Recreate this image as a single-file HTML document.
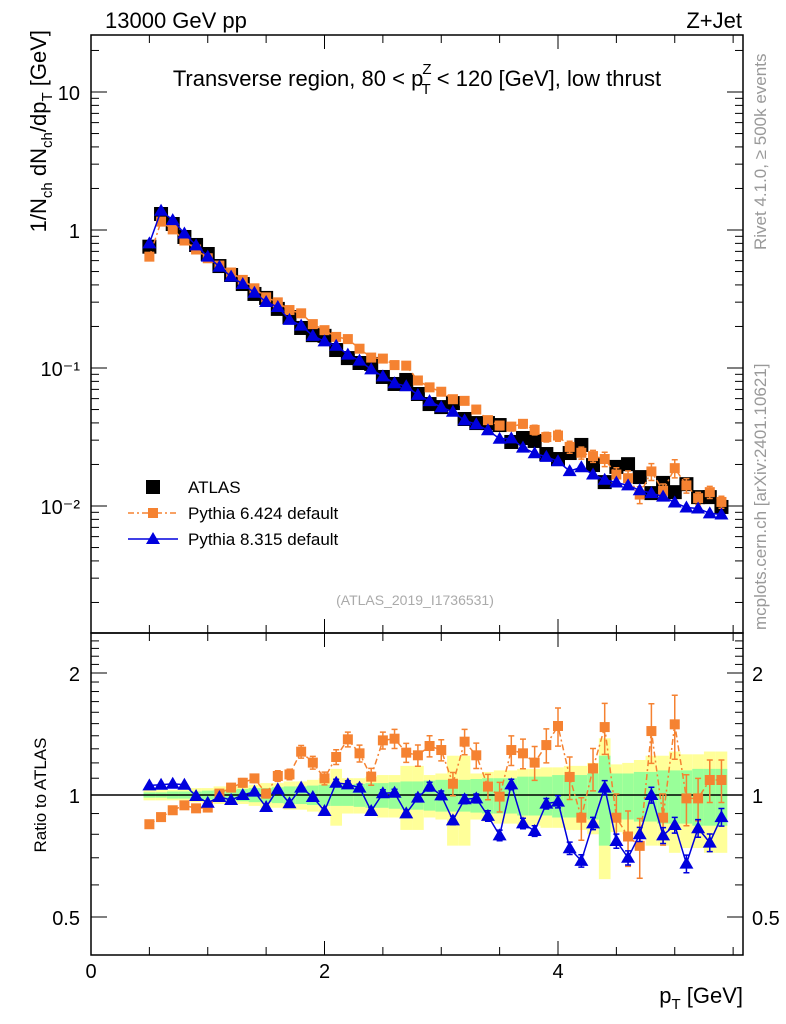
<!DOCTYPE html>
<html><head><meta charset="utf-8">
<style>
html,body{margin:0;padding:0;background:#fff;}
svg{display:block;font-family:"Liberation Sans",Arial,sans-serif;}
</style></head>
<body>
<svg id="chart" width="786" height="1024" viewBox="0 0 786 1024" xmlns="http://www.w3.org/2000/svg">
<text x="105" y="28" font-size="22">13000 GeV pp</text>
<text x="742" y="28" font-size="22" text-anchor="end">Z+Jet</text>
<text x="417" y="86" font-size="22" text-anchor="middle">Transverse region, 80 &lt; p<tspan font-size="15" dy="-12" dx="-1">Z</tspan><tspan font-size="15" dy="20" dx="-10">T</tspan><tspan dy="-8"> &lt; 120 [GeV], low thrust</tspan></text>
<text transform="translate(766,250) rotate(-90)" font-size="17" fill="#999">Rivet 4.1.0, ≥ 500k events</text>
<text transform="translate(766,630) rotate(-90)" font-size="17" fill="#999">mcplots.cern.ch [arXiv:2401.10621]</text>
<text x="415" y="605" font-size="14" fill="#aaa" text-anchor="middle">(ATLAS_2019_I1736531)</text>
<text transform="translate(46,30) rotate(-90)" font-size="22" text-anchor="end">1/N<tspan font-size="15" dy="6">ch</tspan><tspan dy="-6"> dN</tspan><tspan font-size="15" dy="6">ch</tspan><tspan dy="-6">/dp</tspan><tspan font-size="15" dy="6">T</tspan><tspan dy="-6"> [GeV]</tspan></text>
<text transform="translate(46,795) rotate(-90)" font-size="17" text-anchor="middle">Ratio to ATLAS</text>
<text x="743" y="1003" font-size="22" text-anchor="end">p<tspan font-size="15" dy="6">T</tspan><tspan dy="-6"> [GeV]</tspan></text>
<g id="bands"></g><g id="grid"></g><g id="series"></g><g id="axes"></g>
<g id="legend"></g>
</svg>
<script>
const xCenters=[0.5,0.6,0.7,0.8,0.9,1.0,1.1,1.2,1.3,1.4,1.5,1.6,1.7,1.8,1.9,2.0,2.1,2.2,2.3,2.4,2.5,2.6,2.7,2.8,2.9,3.0,3.1,3.2,3.3,3.4,3.5,3.6,3.7,3.8,3.9,4.0,4.1,4.2,4.3,4.4,4.5,4.6,4.7,4.8,4.9,5.0,5.1,5.2,5.3,5.4];
const atlas=[0.757,1.306,1.105,0.890,0.779,0.670,0.548,0.472,0.406,0.344,0.322,0.268,0.234,0.195,0.173,0.171,0.135,0.118,0.1087,0.107,0.0861,0.0766,0.0819,0.0648,0.0548,0.0521,0.0557,0.0427,0.0399,0.0399,0.0386,0.0291,0.0311,0.0296,0.0238,0.0219,0.0242,0.0277,0.0198,0.0149,0.0192,0.0201,0.0162,0.0124,0.0147,0.0126,0.0144,0.0116,0.0116,0.00984];
const py6=[0.641,1.15,1.01,0.839,0.722,0.624,0.552,0.492,0.435,0.378,0.325,0.299,0.263,0.249,0.208,0.188,0.168,0.162,0.138,0.119,0.117,0.105,0.104,0.0812,0.0724,0.0673,0.0594,0.0578,0.0500,0.0419,0.0383,0.0376,0.0394,0.0356,0.0316,0.0324,0.0268,0.0243,0.0230,0.0219,0.0169,0.0159,0.0121,0.0178,0.0129,0.0188,0.0141,0.0114,0.0126,0.0107];
const py8=[0.80,1.38,1.18,0.943,0.774,0.641,0.542,0.459,0.406,0.351,0.301,0.277,0.223,0.203,0.171,0.156,0.145,0.125,0.113,0.0977,0.0870,0.0776,0.0738,0.0638,0.0575,0.0520,0.0482,0.0417,0.0391,0.0354,0.0307,0.0309,0.0265,0.0241,0.0227,0.0211,0.0179,0.0191,0.0169,0.0155,0.0148,0.0141,0.0130,0.0124,0.0117,0.0106,0.00975,0.0096,0.00885,0.00868];
const ratio6=[0.847,0.882,0.917,0.943,0.927,0.931,1.008,1.043,1.072,1.099,1.008,1.114,1.124,1.279,1.202,1.099,1.241,1.372,1.267,1.11,1.364,1.377,1.272,1.253,1.321,1.291,1.066,1.354,1.253,1.049,0.991,1.291,1.267,1.202,1.328,1.48,1.108,0.879,1.163,1.471,0.879,0.79,0.749,1.438,0.879,1.494,0.981,0.981,1.089,1.089];
const ratio8=[1.056,1.06,1.066,1.06,0.994,0.957,0.989,0.972,1.0,1.019,0.934,1.033,0.954,1.043,0.989,0.913,1.072,1.062,1.043,0.913,1.01,1.013,0.901,0.985,1.049,0.998,0.866,0.976,0.981,0.888,0.795,1.062,0.851,0.815,0.952,0.963,0.739,0.688,0.851,1.043,0.77,0.70,0.80,1.0,0.795,0.843,0.677,0.828,0.763,0.882];
const err6=[0.01,0.01,0.01,0.01,0.01,0.01,0.015,0.015,0.02,0.02,0.02,0.025,0.025,0.03,0.03,0.03,0.035,0.035,0.04,0.04,0.04,0.045,0.045,0.05,0.05,0.05,0.055,0.06,0.06,0.06,0.07,0.07,0.07,0.08,0.08,0.09,0.10,0.10,0.10,0.12,0.12,0.13,0.14,0.14,0.12,0.15,0.12,0.10,0.10,0.10];
const err8=[0.01,0.01,0.01,0.01,0.01,0.01,0.01,0.01,0.01,0.01,0.01,0.01,0.015,0.015,0.015,0.015,0.02,0.02,0.02,0.02,0.02,0.02,0.02,0.02,0.025,0.025,0.025,0.025,0.025,0.03,0.03,0.03,0.03,0.03,0.03,0.035,0.035,0.035,0.035,0.04,0.04,0.04,0.04,0.045,0.045,0.045,0.05,0.05,0.05,0.05];
const bandStat=[0.015,0.015,0.02,0.02,0.02,0.025,0.03,0.03,0.035,0.04,0.04,0.045,0.05,0.05,0.055,0.06,0.06,0.06,0.065,0.07,0.07,0.075,0.08,0.08,0.085,0.09,0.09,0.09,0.095,0.10,0.10,0.10,0.11,0.11,0.11,0.12,0.12,0.12,0.13,0.25,0.13,0.13,0.14,0.14,0.15,0.15,0.15,0.16,0.16,0.16];
const bandTot=[0.03,0.03,0.03,0.03,0.04,0.04,0.05,0.05,0.05,0.06,0.07,0.07,0.08,0.08,0.09,0.10,0.16,0.10,0.10,0.11,0.12,0.12,0.18,0.18,0.12,0.13,0.25,0.25,0.13,0.14,0.15,0.15,0.16,0.16,0.17,0.17,0.18,0.18,0.20,0.38,0.19,0.20,0.22,0.25,0.25,0.28,0.26,0.26,0.28,0.28];
const xTicks=[0,2,4];
const mainTicks=[0.01,0.1,1,10];
const mainTickLabels=["10\u207B\u00B2","10\u207B\u00B9","1","10"];
const ratioTicks=[0.5,1,2];
const ratioTickLabels=["0.5","1","2"];

const NS="http://www.w3.org/2000/svg";
const L=91,R=743,T=35,MB=633,RB=955;
const X=v=>L+v*116.75;
const Y=v=>230-138*Math.log10(v);
const YR=v=>795-405.3*Math.log10(v);
function mk(tag,attrs,parent){const e=document.createElementNS(NS,tag);for(const k in attrs)e.setAttribute(k,attrs[k]);document.getElementById(parent).appendChild(e);return e;}
const hw=0.05;
for(let i=0;i<xCenters.length;i++){
  const x0=X(xCenters[i]-hw),x1=X(xCenters[i]+hw);
  let e=mk('rect',{x:x0,y:YR(1+bandTot[i]),width:x1-x0,height:YR(1-bandTot[i])-YR(1+bandTot[i]),fill:'#ffff99'},'bands');
  
  
  e=mk('rect',{x:x0,y:YR(1+bandStat[i]),width:x1-x0,height:YR(1-bandStat[i])-YR(1+bandStat[i]),fill:'#99ff99'},'bands');
  
  
}
let ln=mk('line',{x1:L,x2:R,y1:YR(1),y2:YR(1),stroke:'#000','stroke-width':1.5},'grid');


atlas.forEach((v,i)=>{const e=mk('rect',{x:X(xCenters[i])-7,y:Y(v)-7,width:14,height:14,fill:'#000'},'series');
  
  });
function series(vals,errs,Yf,color,dash,marker,name){
  const pts=vals.map((v,i)=>[X(xCenters[i]),Yf(v)]);
  const p=mk('polyline',{points:pts.map(p=>p.join(',')).join(' '),fill:'none',stroke:color,'stroke-width':1.5,'stroke-dasharray':dash},'series');
  
  
  vals.forEach((v,i)=>{
    const x=pts[i][0],yt=Yf(v*(1+errs[i])),yb=Yf(v*(1-errs[i]));
    if(yb-yt>6){const eb=mk('path',{d:`M${x},${yt}V${yb}M${x-3},${yt}H${x+3}M${x-3},${yb}H${x+3}`,stroke:color,'stroke-width':1.5,fill:'none'},'series');
      
      }
    let m;
    if(marker==='sq') m=mk('rect',{x:x-5,y:pts[i][1]-5,width:10,height:10,fill:color},'series');
    else m=mk('path',{d:`M${x},${pts[i][1]-7}L${x+7},${pts[i][1]+5}L${x-7},${pts[i][1]+5}Z`,fill:color},'series');
    
    
  });
}
series(py6,err6,Y,'#f58231','6,3,2,3','sq','pythia6');
series(py8,err8,Y,'#0000dd','none','tri','pythia8');
series(ratio6,err6.map(e=>e*1.2),YR,'#f58231','6,3,2,3','sq','pythia6-ratio');
series(ratio8,err8.map(e=>e*1.0),YR,'#0000dd','none','tri','pythia8-ratio');
[[T,MB],[MB,RB]].forEach(([t,b],k)=>{const f=mk('rect',{x:L,y:t,width:R-L,height:b-t,fill:'none',stroke:'#000','stroke-width':1.5},'axes');
  
  });
function tick(x1,y1,x2,y2){mk('line',{x1,y1,x2,y2,stroke:'#000','stroke-width':1},'axes');}
for(let v=0;v<=5.6;v+=0.5){const x=X(v);if(x>R)break;const major=Math.abs(v%2)<1e-6||Math.abs(v%2-2)<1e-6;const len=major?14:8;
  [T,MB].forEach(t=>tick(x,t,x,t+len));[MB,RB].forEach(b=>tick(x,b,x,b-len));}
xTicks.forEach(v=>{const t=mk('text',{x:X(v),y:978,'font-size':20,'text-anchor':'middle'},'axes');t.textContent=v;
  
  });
for(let d=-3;d<=1;d++)for(let m=1;m<=9;m++){const v=m*Math.pow(10,d);const y=Y(v);if(y<T||y>MB)continue;const len=m===1?16:8;tick(L,y,L+len,y);tick(R,y,R-len,y);}
mainTicks.forEach((v,i)=>{const t=mk('text',{x:80,y:Y(v)+8,'font-size':20,'text-anchor':'end'},'axes');
  t.textContent=mainTickLabels[i];
  
  });
for(let v=0.5;v<=2.5;v+=0.1){const y=YR(v);if(y<MB||y>RB)continue;const major=ratioTicks.some(r=>Math.abs(r-v)<1e-6);const len=major?16:8;tick(L,y,L+len,y);tick(R,y,R-len,y);}
ratioTicks.forEach((v,i)=>{[[80,'end'],[752,'start']].forEach(([x,a])=>{const t=mk('text',{x,y:YR(v)+8,'font-size':20,'text-anchor':a},'axes');
  t.textContent=ratioTickLabels[i];
  
  });});
const lg=[['ATLAS','#000','none','bigsq',487],['Pythia 6.424 default','#f58231','6,3,2,3','sq',513],['Pythia 8.315 default','#0000dd','none','tri',539]];
lg.forEach(([lab,c,d,m,y])=>{
  if(m!=='bigsq') mk('line',{x1:128,x2:178,y1:y,y2:y,stroke:c,'stroke-width':1.5,'stroke-dasharray':d},'legend');
  if(m==='bigsq') mk('rect',{x:146,y:y-7,width:14,height:14,fill:c},'legend');
  else if(m==='sq') mk('rect',{x:148,y:y-5,width:10,height:10,fill:c},'legend');
  else mk('path',{d:`M153,${y-7}L160,${y+5}L146,${y+5}Z`,fill:c},'legend');
  const t=mk('text',{x:188,y:y+6,'font-size':17},'legend');t.textContent=lab;
  
  
});
</script>
</body></html>
